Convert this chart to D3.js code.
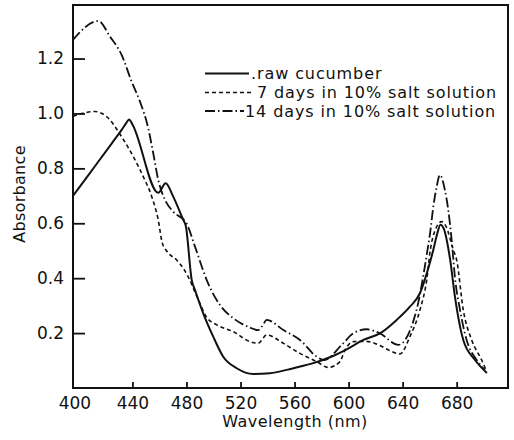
<!DOCTYPE html>
<html>
<head>
<meta charset="utf-8">
<script src="https://cdn.jsdelivr.net/npm/d3@7"></script>
<style>
  body { margin: 0; background: #fff; }
  svg text { font-family: "DejaVu Sans", sans-serif; fill: #111; }
</style>
</head>
<body>
<div id="chart-area"></div>
<script>
/*
*    absorbance spectra of cucumber
*/

// raw cucumber (solid)
var rawWl  = [396, 410, 425, 432, 435.5, 437.5, 440, 459.1, 464.6, 470.2, 477.6, 479.5, 483.9, 486.3, 492.4, 499.8, 507.2, 517.2, 529.5, 541.8, 554.2, 564, 572, 586.2, 598.6, 610.9, 623.2, 635.6, 645.4, 652.8, 659, 662.7, 665.5, 668, 670.5, 675.1, 678.8, 684.9, 693.6, 702.4];
var rawAbs = [0.70, 0.793, 0.893, 0.94, 0.966, 0.978, 0.96, 0.711, 0.746, 0.697, 0.612, 0.59, 0.393, 0.357, 0.272, 0.187, 0.114, 0.072, 0.051, 0.054, 0.066, 0.078, 0.088, 0.112, 0.141, 0.175, 0.199, 0.248, 0.296, 0.345, 0.436, 0.503, 0.56, 0.595, 0.58, 0.47, 0.33, 0.175, 0.102, 0.055];

// 7 days in 10% salt (short dashes)
var day7Wl  = [396, 412.3, 421, 432, 440.6, 448, 454.3, 459.1, 462, 466, 472.8, 477.6, 481.3, 487.5, 495, 502.4, 514.7, 527, 533, 539.4, 551.7, 564, 576.4, 585, 593.6, 597.3, 603.5, 613, 623, 631, 638, 645.4, 652.8, 657.8, 660.5, 664.2, 668.9, 672, 677.5, 680, 684.9, 691.1, 698.5, 701.7];
var day7Abs = [0.99, 1.007, 0.988, 0.915, 0.843, 0.77, 0.697, 0.612, 0.53, 0.495, 0.466, 0.436, 0.405, 0.336, 0.257, 0.23, 0.205, 0.169, 0.163, 0.193, 0.163, 0.126, 0.096, 0.075, 0.096, 0.138, 0.169, 0.17, 0.155, 0.135, 0.124, 0.187, 0.284, 0.393, 0.503, 0.576, 0.606, 0.59, 0.503, 0.466, 0.284, 0.175, 0.102, 0.066];

// 14 days in 10% salt (dash-dot)
var day14Wl  = [396, 414.7, 423.4, 432, 439.4, 445.6, 451.7, 455.4, 459.1, 464.1, 470.2, 480, 486.3, 495, 504.8, 514.7, 527, 533, 536, 539.4, 551.7, 564, 576.4, 582, 594.9, 603.5, 613.4, 623.2, 636.8, 650.3, 655, 658, 660.3, 662.7, 665.2, 667.6, 671.3, 673.8, 676.3, 678.8, 682.5, 687.4, 694.8, 700.9];
var day14Abs = [1.268, 1.337, 1.28, 1.213, 1.116, 1.043, 0.946, 0.855, 0.758, 0.685, 0.642, 0.60, 0.515, 0.393, 0.302, 0.254, 0.22, 0.211, 0.225, 0.248, 0.211, 0.175, 0.114, 0.102, 0.157, 0.199, 0.214, 0.199, 0.157, 0.284, 0.40, 0.49, 0.563, 0.66, 0.733, 0.776, 0.721, 0.648, 0.539, 0.40, 0.284, 0.175, 0.102, 0.066];

var xTicks = [400, 440, 480, 520, 560, 600, 640, 680];
var yTicks = [0.2, 0.4, 0.6, 0.8, 1.0, 1.2];
var legendLabels = [".raw cucumber", "7 days in 10% salt solution", "14 days in 10% salt solution"];

var plotLeft = 73, plotRight = 508, plotTop = 5, plotBottom = 388;

var svg = d3.select("#chart-area")
	.append("svg")
	.attr("width", 514)
	.attr("height", 440);

var x = d3.scaleLinear()
	.domain([396, 718])
	.range([plotLeft, plotRight]);

var y = d3.scaleLinear()
	.domain([0, 1.395])
	.range([plotBottom, plotTop]);

var styles = [
	{ width: 2, dash: null },
	{ width: 1.6, dash: "4,3" },
	{ width: 1.8, dash: "10,3,1.5,3" }
];

// frame
svg.append("rect")
	.attr("x", plotLeft)
	.attr("y", plotTop)
	.attr("width", plotRight - plotLeft)
	.attr("height", plotBottom - plotTop)
	.attr("fill", "none")
	.attr("stroke", "#111")
	.attr("stroke-width", 2);

var xAxis = svg.append("g")
	.attr("transform", "translate(0," + plotBottom + ")")
	.call(d3.axisBottom(x).tickValues(xTicks).tickSize(-6).tickPadding(9).tickFormat(d3.format("d")));
xAxis.select(".domain").remove();
xAxis.selectAll("line").attr("stroke", "#111").attr("stroke-width", 1.8);
xAxis.selectAll(".tick").filter(function(d) { return d == 400; }).select("line").remove();
xAxis.selectAll("text")
	.attr("font-size", "17px")
	.attr("fill", "#111")
	.attr("dx", function(d) { return d == 400 ? -4 : 0; });

var yAxis = svg.append("g")
	.attr("transform", "translate(" + plotLeft + ",0)")
	.call(d3.axisLeft(y).tickValues(yTicks).tickSize(-12).tickPadding(9).tickFormat(d3.format(".1f")));
yAxis.select(".domain").remove();
yAxis.selectAll("line").attr("stroke", "#111").attr("stroke-width", 1.8);
yAxis.selectAll("text")
	.attr("font-size", "17px")
	.attr("fill", "#111");

svg.append("text")
	.attr("x", 295)
	.attr("y", 427)
	.attr("text-anchor", "middle")
	.attr("font-size", "16px")
	.attr("letter-spacing", "0.5px")
	.text("Wavelength (nm)");

svg.append("text")
	.attr("transform", "translate(25,194) rotate(-90)")
	.attr("text-anchor", "middle")
	.attr("font-size", "16px")
	.attr("letter-spacing", "0.3px")
	.text("Absorbance");

var line = d3.line()
	.x(function(d) { return x(d[0]); })
	.y(function(d) { return y(d[1]); })
	.curve(d3.curveMonotoneX);

var series = [
	d3.zip(rawWl, rawAbs),
	d3.zip(day7Wl, day7Abs),
	d3.zip(day14Wl, day14Abs)
];

series.forEach(function(s, i) {
	svg.append("path")
		.datum(s)
		.attr("d", line)
		.attr("fill", "none")
		.attr("stroke", "#111")
		.attr("stroke-width", styles[i].width)
		.attr("stroke-dasharray", styles[i].dash);
});

// legend
var legendY = [73.5, 92.5, 111];
var legendEnd = [249, 251, 244];
var legendText = [251, 257, 245];

legendLabels.forEach(function(lab, i) {
	svg.append("line")
		.attr("x1", 205)
		.attr("x2", legendEnd[i])
		.attr("y1", legendY[i])
		.attr("y2", legendY[i])
		.attr("stroke", "#111")
		.attr("stroke-width", styles[i].width)
		.attr("stroke-dasharray", styles[i].dash);

	svg.append("text")
		.attr("x", legendText[i])
		.attr("y", legendY[i] + 5.5)
		.attr("font-size", "16px")
		.attr("letter-spacing", "0.9px")
		.text(lab);
});
</script>
</body>
</html>
